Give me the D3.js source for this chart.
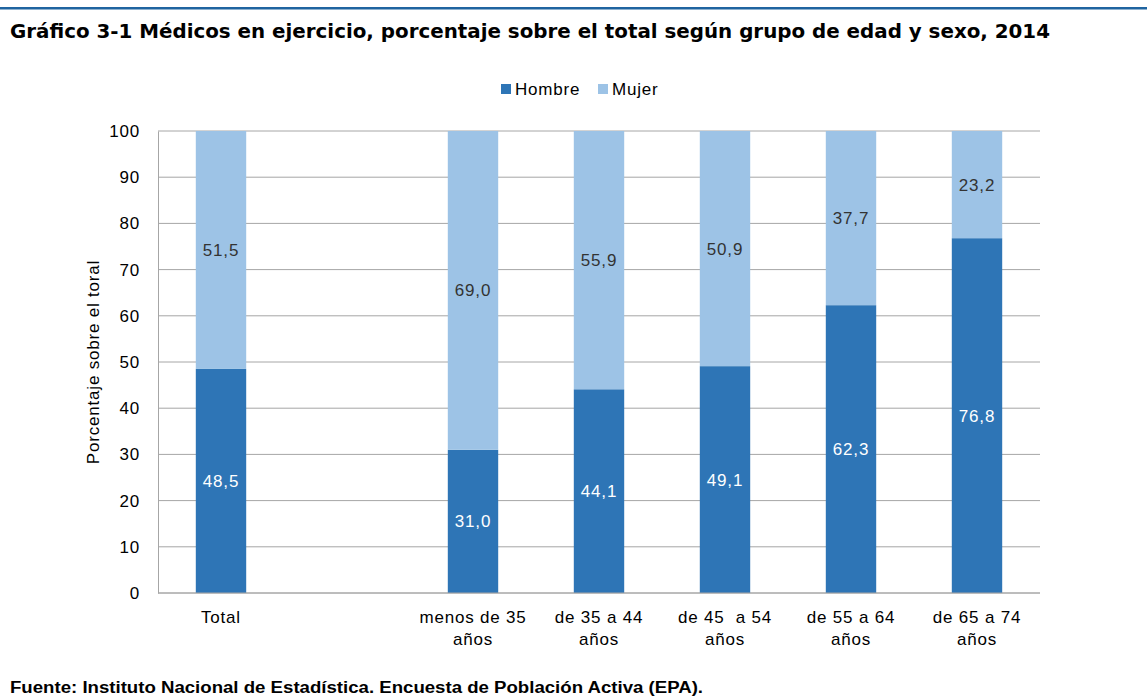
<!DOCTYPE html>
<html>
<head>
<meta charset="utf-8">
<script src="https://cdn.jsdelivr.net/npm/d3@7"></script>
<style>
  body { margin: 0; background: #fff; }
  svg { font-family: "Liberation Sans", Arial, sans-serif; }
  .lbl { font-size: 17px; letter-spacing: 0.8px; }
</style>
</head>
<body>
<div id="chart"></div>
<script>
// categories (empty slot between Total and age groups, as in the original)
const categories = ["Total", "", "menos de 35 años", "de 35 a 44 años", "de 45  a 54 años", "de 55 a 64 años", "de 65 a 74 años"];
const categoryLines = [["Total"], [], ["menos de 35", "años"], ["de 35 a 44", "años"], ["de 45  a 54", "años"], ["de 55 a 64", "años"], ["de 65 a 74", "años"]];
const hombre = [48.5, null, 31.0, 44.1, 49.1, 62.3, 76.8];
const mujer = [51.5, null, 69.0, 55.9, 50.9, 37.7, 23.2];
const yTicks = [0, 10, 20, 30, 40, 50, 60, 70, 80, 90, 100];
const seriesNames = ["Hombre", "Mujer"];
const colors = ["#2e75b6", "#9dc3e6"];

const W = 1147, H = 697;
const margin = { top: 131, right: 107, bottom: 104, left: 158 },
  width = W - margin.left - margin.right,
  height = H - margin.top - margin.bottom;

const root = d3.select("#chart").append("svg")
  .attr("width", W)
  .attr("height", H);

// top rule + title
root.append("rect").attr("x", 0).attr("y", 7).attr("width", W).attr("height", 2.5).attr("fill", "#1f64a0");
root.append("text")
  .attr("x", 10).attr("y", 38)
  .attr("textLength", 1040).attr("lengthAdjust", "spacingAndGlyphs")
  .style("font-size", "19.5px").style("font-weight", "900")
  .style("font-family", "'DejaVu Sans', sans-serif")
  .text("Gráfico 3-1 Médicos en ejercicio, porcentaje sobre el total según grupo de edad y sexo, 2014");

root.append("text")
  .attr("x", 10).attr("y", 693)
  .attr("textLength", 693).attr("lengthAdjust", "spacingAndGlyphs")
  .style("font-size", "16px").style("font-weight", "bold")
  .text("Fuente: Instituto Nacional de Estadística. Encuesta de Población Activa (EPA).");

const svg = root.append("g").attr("transform", `translate(${margin.left},${margin.top})`);

const x = d3.scaleBand().domain(categories).range([0, width]).paddingInner(0.6).paddingOuter(0.3);
const y = d3.scaleLinear().domain([0, 100]).range([height, 0]);

// grid
svg.append("g")
  .selectAll("line")
  .data(yTicks)
  .join("line")
  .attr("x1", 0).attr("x2", width)
  .attr("y1", d => y(d)).attr("y2", d => y(d))
  .attr("stroke", "#a6a6a6").attr("stroke-width", 1);

// Y axis
const yAxis = svg.append("g")
  .call(d3.axisLeft(y).tickValues(yTicks).tickSize(0).tickPadding(18).tickFormat(d3.format("d")));
yAxis.select(".domain").attr("stroke", "#a6a6a6");
yAxis.selectAll("text")
  .attr("class", "lbl").attr("fill", "#000")
  .style("font-family", "'Liberation Sans', Arial, sans-serif")
  .style("font-size", "17px").style("letter-spacing", "0.8px");

svg.append("text")
  .attr("class", "lbl")
  .attr("transform", `translate(-59,${height / 2}) rotate(-90)`)
  .attr("text-anchor", "middle")
  .text("Porcentaje sobre el toral");

// stacked bars
const rows = categories.map((c, i) => ({ cat: c, Hombre: hombre[i], Mujer: mujer[i] }))
  .filter(d => d.Hombre != null);
const stack = d3.stack().keys(seriesNames)(rows);

const layers = svg.append("g").selectAll("g")
  .data(stack)
  .join("g")
  .attr("fill", (d, i) => colors[i]);

layers.selectAll("rect")
  .data(d => d)
  .join("rect")
  .attr("x", d => x(d.data.cat))
  .attr("y", d => y(d[1]))
  .attr("width", x.bandwidth())
  .attr("height", d => y(d[0]) - y(d[1]));

layers.selectAll("text")
  .data((d, i) => d.map(v => ({ v, i })))
  .join("text")
  .attr("class", "lbl")
  .attr("x", d => x(d.v.data.cat) + x.bandwidth() / 2)
  .attr("y", d => y((d.v[0] + d.v[1]) / 2))
  .attr("dy", "0.35em")
  .attr("text-anchor", "middle")
  .attr("fill", d => d.i === 0 ? "#fff" : "#333")
  .text(d => d3.format(".1f")(d.v[1] - d.v[0]).replace(".", ","));

// X axis line
svg.append("line")
  .attr("x1", 0).attr("x2", width)
  .attr("y1", height).attr("y2", height)
  .attr("stroke", "#a6a6a6");

// X labels
const xl = svg.append("g").selectAll("text")
  .data(categories.map((c, i) => ({ c, lines: categoryLines[i] })))
  .join("text")
  .attr("class", "lbl")
  .attr("x", d => x(d.c) + x.bandwidth() / 2)
  .attr("y", height + 30)
  .attr("text-anchor", "middle");
xl.selectAll("tspan")
  .data(d => d.lines)
  .join("tspan")
  .attr("x", function () { return this.parentNode.getAttribute("x"); })
  .attr("dy", (d, i) => i === 0 ? 0 : 22)
  .style("white-space", "pre")
  .text(d => d);

// legend
const legend = root.append("g").attr("transform", "translate(501,89)");
const lx = [0, 97];
seriesNames.forEach((s, i) => {
  const g = legend.append("g").attr("transform", `translate(${lx[i]},0)`);
  g.append("rect").attr("x", 0).attr("y", -5).attr("width", 10).attr("height", 10).attr("fill", colors[i]);
  g.append("text").attr("class", "lbl").attr("x", 14).attr("y", 0).attr("dy", "0.35em").text(s);
});
</script>
</body>
</html>
